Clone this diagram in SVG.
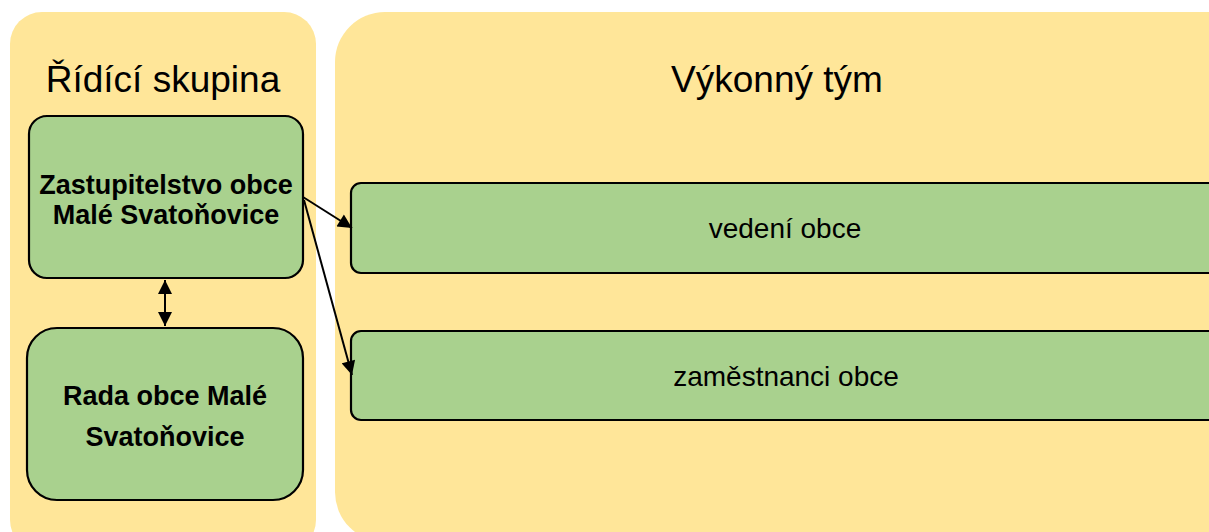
<svg xmlns="http://www.w3.org/2000/svg" width="1209" height="532" viewBox="0 0 1209 532">
<style>
.panel{fill:#FFE699;stroke:none}
.node{fill:#A9D18E;stroke:#000;stroke-width:2.2}
.title{font-family:"Liberation Sans",Arial,sans-serif;font-size:37px;fill:#000;text-anchor:middle}
.bold{font-family:"Liberation Sans",Arial,sans-serif;font-size:27px;font-weight:bold;fill:#000;text-anchor:middle}
.reg{font-family:"Liberation Sans",Arial,sans-serif;font-size:28px;fill:#000;text-anchor:middle}
.conn{stroke:#000;stroke-width:2;fill:none}
</style>
<defs>
<marker id="ah" viewBox="0 0 10 10" refX="10" refY="5" markerWidth="7.5" markerHeight="7" orient="auto-start-reverse" markerUnits="strokeWidth">
<path d="M0,0 L10,5 L0,10 z" fill="#000"/>
</marker>
</defs>
<rect width="1209" height="532" fill="#fff"/>
<g id="panel-ridici">
<rect class="panel" x="10" y="12" width="306" height="540" rx="32"/>
<text class="title" x="163" y="92">Řídící skupina</text>
</g>
<g id="panel-vykonny">
<rect class="panel" x="335" y="12" width="930" height="530" rx="50"/>
<text class="title" x="777" y="92">Výkonný tým</text>
</g>
<g id="node-zastupitelstvo">
<rect class="node" x="29" y="116" width="274" height="162" rx="18"/>
<text class="bold" x="166" y="194">Zastupitelstvo obce</text>
<text class="bold" x="166" y="224">Malé Svatoňovice</text>
</g>
<g id="node-rada">
<rect class="node" x="27" y="328" width="276" height="172" rx="30"/>
<text class="bold" x="165" y="405">Rada obce Malé</text>
<text class="bold" x="165" y="446">Svatoňovice</text>
</g>
<g id="node-vedeni">
<rect class="node" x="351" y="183" width="900" height="90" rx="10"/>
<text class="reg" x="785" y="238">vedení obce</text>
</g>
<g id="node-zamestnanci">
<rect class="node" x="351" y="331" width="900" height="89" rx="10"/>
<text class="reg" x="786" y="386">zaměstnanci obce</text>
</g>
<g id="connectors">
<line class="conn" x1="303" y1="197" x2="352" y2="228" marker-end="url(#ah)"/>
<line class="conn" x1="304" y1="200" x2="352" y2="375" marker-end="url(#ah)"/>
<line class="conn" x1="165" y1="280" x2="165" y2="326" marker-start="url(#ah)" marker-end="url(#ah)"/>
</g>
</svg>
